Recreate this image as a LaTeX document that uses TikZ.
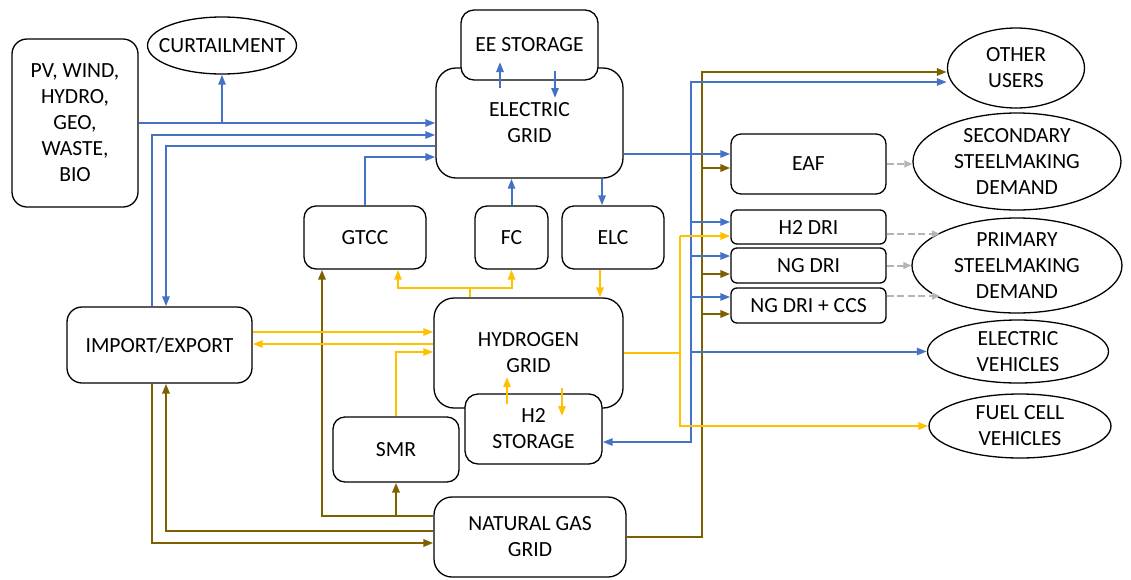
\documentclass[tikz,border=0pt]{standalone}
\usepackage{fontspec}
\setmainfont{Carlito}
\usetikzlibrary{arrows.meta,shapes.geometric,calc}
\definecolor{eblue}{HTML}{4472C4}
\definecolor{hyel}{HTML}{FFC000}
\definecolor{gbrown}{HTML}{7F6000}
\definecolor{dgrey}{HTML}{B4B4B4}
\newcommand\rbx[7][]{\node[rbox,#1, minimum width={(#5-#3)*0.5pt}, minimum height={(#6-#4)*0.5pt}] (#2) at ({(#3+#5)/2},{(#4+#6)/2}) {#7};}
\begin{document}
\begin{tikzpicture}[x=0.5pt,y=-0.5pt,
  font=\fontsize{10.8}{13}\selectfont,
  rbox/.style={draw, line width=0.65pt, fill=white, inner sep=0pt, align=center},
  elp/.style={draw, ellipse, line width=0.65pt, fill=white, inner sep=0pt},
  txt/.style={align=center, inner sep=0pt},
  tip/.style={-{Triangle[length=5pt,width=3.6pt]}},
  bln/.style={draw=eblue, line width=1pt},
  bl/.style={bln, tip},
  yln/.style={draw=hyel, line width=1pt},
  yl/.style={yln, tip},
  brn/.style={draw=gbrown, line width=1.25pt},
  br/.style={brn, tip},
  gr/.style={draw=dgrey, line width=1pt, dash pattern=on 3.5pt off 1.8pt,
    -{Triangle[length=4pt,width=3.4pt]}}]
\useasboundingbox (0,0) rectangle (1131,579);

% ---- boxes ----
\rbx[rounded corners=7.5pt]{pv}{12}{39}{138}{207}{PV, WIND,\\HYDRO,\\GEO,\\WASTE,\\BIO}
\node[elp, minimum width=74.5pt, minimum height=28.5pt] (curt) at (222,45.5) {};
\node[txt] at (curt) {CURTAILMENT};
\rbx[rounded corners=10pt]{eg}{436}{68}{623}{178}{ELECTRIC\\GRID}
\rbx[rounded corners=6.5pt]{ees}{461}{10}{598}{80}{EE STORAGE}
\rbx[rounded corners=6pt]{gtcc}{304}{206}{426}{269}{GTCC}
\rbx[rounded corners=6pt]{fc}{475}{206}{548}{269}{FC}
\rbx[rounded corners=6pt]{elc}{562}{206}{664}{269}{ELC}
\rbx[rounded corners=7.5pt]{ie}{67}{307}{252}{383}{IMPORT/EXPORT}
\rbx[rounded corners=10pt]{hg}{434}{298}{623}{408}{HYDROGEN\\GRID}
\rbx[rounded corners=6.5pt]{h2s}{465}{394}{602}{464}{H2\\STORAGE}
\rbx[rounded corners=6pt]{smr}{333}{417}{459}{482}{SMR}
\rbx[rounded corners=9pt]{ng}{434}{497}{626}{577}{NATURAL GAS\\GRID}
\rbx[rounded corners=5pt]{eaf}{731}{134}{886}{194}{EAF}
\rbx[rounded corners=3pt]{h2dri}{731}{210}{886}{244}{H2 DRI}
\rbx[rounded corners=3pt]{ngdri}{731}{248}{886}{283}{NG DRI}
\rbx[rounded corners=3pt]{ccs}{731}{288}{886}{323}{NG DRI + CCS}

\node[elp, minimum width=68.5pt, minimum height=40pt] (ou) at (1016,68) {};
\node[txt] at (ou) {OTHER\\USERS};
\node[elp, minimum width=104pt, minimum height=48.5pt] (sec) at (1017,161.5) {};
\node[txt] at (sec) {SECONDARY\\STEELMAKING\\DEMAND};
\node[elp, minimum width=105pt, minimum height=47.5pt] (pri) at (1017,265.5) {};
\node[txt] at (pri) {PRIMARY\\STEELMAKING\\DEMAND};
\node[elp, minimum width=90.5pt, minimum height=31.5pt] (ev) at (1018,351.5) {};
\node[txt] at (ev) {ELECTRIC\\VEHICLES};
\node[elp, minimum width=91pt, minimum height=32pt] (fcv) at (1020,426) {};
\node[txt] at (fcv) {FUEL CELL\\VEHICLES};

% ---- helper coordinates ----
\coordinate (xA) at (152,0); \coordinate (xB) at (166,0);
\coordinate (yA) at (0,135); \coordinate (yB) at (0,146); \coordinate (yC) at (0,157);
\coordinate (xE) at (602,0); \coordinate (xH) at (600,0); \coordinate (xG) at (398,0);
\coordinate (xK) at (322,0);
\coordinate (yj) at (470,288);
\coordinate (yD) at (0,332); \coordinate (yE) at (0,344); \coordinate (yF) at (0,352);
\coordinate (yh) at (680,236);
\coordinate (bt) at (691,82); \coordinate (bb) at (691,442); \coordinate (yG) at (0,154);
\coordinate (yb1) at (0,222); \coordinate (yb2) at (0,256); \coordinate (yb3) at (0,297);
\coordinate (nt) at (702,72);
\coordinate (yn1) at (0,168); \coordinate (yn2) at (0,274); \coordinate (yn3) at (0,314);
\coordinate (yK) at (0,516); \coordinate (yL) at (0,531); \coordinate (yM) at (0,543);
\coordinate (e1a) at (500,88); \coordinate (e1b) at (500,62);
\coordinate (e2a) at (555,71); \coordinate (e2b) at (555,98);
\coordinate (h1a) at (507,404); \coordinate (h1b) at (507,377);
\coordinate (h2a) at (562,388); \coordinate (h2b) at (562,416);
\coordinate (g1) at (940,234); \coordinate (g3) at (940,296);

% ---- natural gas ----
\draw[br] (ng.east) -| (nt) -- (nt -| ou.west);
\draw[br] (nt |- yn1) -- (yn1 -| eaf.west);
\draw[br] (nt |- yn2) -- (yn2 -| ngdri.west);
\draw[br] (nt |- yn3) -- (yn3 -| ccs.west);
\draw[br] (yK -| ng.west) -| (xK |- gtcc.south);
\draw[br] (smr.south |- yK) -- (smr.south);
\draw[br] (yL -| ng.west) -| (xB |- ie.south);
\draw[br] (xA |- ie.south) |- (yM -| ng.west);

% ---- electricity ----
\draw[bl] (pv.east) -- (pv.east -| eg.west);
\draw[bl] (curt.south |- pv.east) -- (curt.south);
\draw[bl] (xA |- ie.north) |- (yA -| eg.west);
\draw[bl] (yB -| eg.west) -| (xB |- ie.north);
\draw[bl] (gtcc.north) |- (yC -| eg.west);
\draw[bl] (e1a) -- (e1b);
\draw[bl] (e2a) -- (e2b);
\draw[bl] (fc.north) -- (fc.north |- eg.south);
\draw[bl] (xE |- eg.south) -- (xE |- elc.north);
\draw[bl] (yG -| eg.east) -- (yG -| eaf.west);
\draw[bl] (bt |- yG) |- (ou.west |- bt);
\draw[bl] (bt |- yG) |- (h2s.east |- bb);
\draw[bl] (bt |- yb1) -- (yb1 -| h2dri.west);
\draw[bl] (bt |- yb2) -- (yb2 -| ngdri.west);
\draw[bl] (bt |- yb3) -- (yb3 -| ccs.west);
\draw[bl] (bt |- ev.west) -- (ev.west);

% ---- hydrogen ----
\draw[yln] (yj |- hg.north) -- (yj);
\draw[yl] (yj) -| (xG |- gtcc.south);
\draw[yl] (yj) -| (fc.south);
\draw[yl] (xH |- elc.south) -- (xH |- hg.north);
\draw[yl] (yD -| ie.east) -- (yD -| hg.west);
\draw[yl] (yE -| hg.west) -- (yE -| ie.east);
\draw[yl] (smr.north) |- (yF -| hg.west);
\draw[yl] (h1a) -- (h1b);
\draw[yl] (h2a) -- (h2b);
\draw[yln] (hg.east) -- (hg.east -| yh);
\draw[yl] (yh) -- (yh -| h2dri.west);
\draw[yl] (yh) |- (fcv.west);

% ---- steel demand ----
\draw[gr] (eaf.east) -- (eaf.east -| sec.west);
\draw[gr] (h2dri.east |- g1) -- (g1);
\draw[gr] (ngdri.east) -- (ngdri.east -| pri.west);
\draw[gr] (ccs.east |- g3) -- (g3);
\end{tikzpicture}
\end{document}
